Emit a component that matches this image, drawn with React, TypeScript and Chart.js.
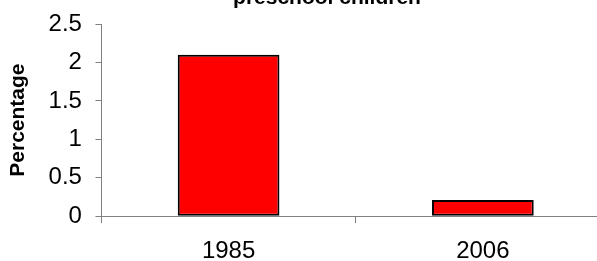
import React, { useEffect, useRef } from 'react';
import { Chart, registerables } from 'chart.js';

Chart.register(...registerables);

const titleText = 'preschool children';
const yAxisTitle = 'Percentage';
const categories = ['1985', '2006'];
const values = [2.1, 0.21];
const yMin = 0;
const yMax = 2.5;
const yStep = 0.5;

const FONT = "'Liberation Sans', Arial, sans-serif";

export default function App() {
  const ref = useRef<HTMLCanvasElement | null>(null);

  useEffect(() => {
    if (!ref.current) return;
    const chart = new Chart(ref.current, {
      type: 'bar',
      data: {
        labels: categories,
        datasets: [
          {
            data: values,
            backgroundColor: '#FF0000',
            borderColor: '#000000',
            borderWidth: 2,
            borderSkipped: false,
            categoryPercentage: 1,
            barPercentage: 0.4,
          },
        ],
      },
      options: {
        animation: false,
        responsive: false,
        devicePixelRatio: 1,
        layout: { padding: 0 },
        plugins: {
          legend: { display: false },
          tooltip: { enabled: false },
          title: {
            display: true,
            text: titleText,
            color: '#000',
            font: { family: FONT, size: 21, weight: 'bold' },
            padding: { top: 4, bottom: 12.8 },
          },
        },
        scales: {
          x: {
            offset: true,
            grid: {
              display: true,
              drawOnChartArea: false,
              drawTicks: true,
              tickLength: 7,
              color: '#808080',
              offset: true,
            },
            border: { display: true, color: '#808080', width: 1 },
            ticks: {
              color: '#000',
              font: { family: FONT, size: 24 },
              padding: 13.5,
              maxRotation: 0,
            },
          },
          y: {
            min: yMin,
            max: yMax,
            grid: {
              display: true,
              drawOnChartArea: false,
              drawTicks: true,
              tickLength: 6,
              color: '#808080',
            },
            border: { display: true, color: '#808080', width: 1 },
            ticks: {
              stepSize: yStep,
              color: '#000',
              font: { family: FONT, size: 24 },
              padding: 13.5,
              callback: (v: any) => String(Number(v)),
            },
            title: {
              display: true,
              text: yAxisTitle,
              color: '#000',
              font: { family: FONT, size: 21, weight: 'bold' },
              padding: { top: 5.9, bottom: 4 },
            },
          },
          yRight: {
            type: 'linear',
            position: 'right',
            display: true,
            grid: { display: false, drawTicks: false },
            border: { display: false },
            ticks: { display: false },
            afterFit: (scale: any) => {
              scale.width = 44;
            },
          },
        },
      },
    });
    return () => chart.destroy();
  }, []);

  return (
    <div
      style={{
        position: 'fixed',
        left: 0,
        top: 0,
        width: 597,
        height: 261,
        overflow: 'hidden',
        background: '#fff',
      }}
    >
      <canvas
        ref={ref}
        width={654}
        height={297}
        style={{ position: 'absolute', left: 0, top: -18, width: 654, height: 297 }}
      />
    </div>
  );
}
